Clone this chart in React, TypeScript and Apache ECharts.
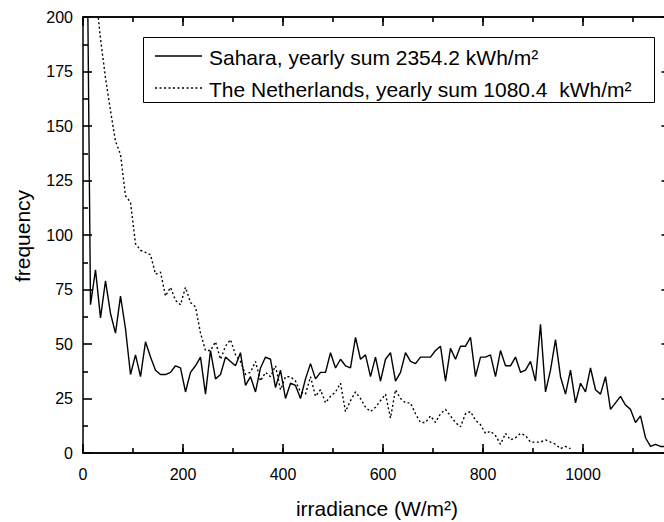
import React, { useEffect, useRef } from 'react';
import * as echarts from 'echarts';

const irradianceBins = [
  5, 15, 25, 35, 45, 55, 65, 75, 85, 95,
  105, 115, 125, 135, 145, 155, 165, 175, 185, 195,
  205, 215, 225, 235, 245, 255, 265, 275, 285, 295,
  305, 315, 325, 335, 345, 355, 365, 375, 385, 395,
  405, 415, 425, 435, 445, 455, 465, 475, 485, 495,
  505, 515, 525, 535, 545, 555, 565, 575, 585, 595,
  605, 615, 625, 635, 645, 655, 665, 675, 685, 695,
  705, 715, 725, 735, 745, 755, 765, 775, 785, 795,
  805, 815, 825, 835, 845, 855, 865, 875, 885, 895,
  905, 915, 925, 935, 945, 955, 965, 975, 985, 995,
  1005, 1015, 1025, 1035, 1045, 1055, 1065, 1075, 1085, 1095,
  1105, 1115, 1125, 1135, 1145, 1155, 1165,
];

const saharaFreq = [
  320, 68, 84, 62, 79, 64, 55, 72, 57, 36,
  45, 35, 51, 44, 38, 36, 36, 37, 40, 39,
  28, 37, 40, 44, 27, 47, 34, 36, 44, 42,
  40, 46, 31, 35, 28, 39, 44, 43, 30, 38,
  25, 32, 31, 25, 34, 41, 34, 37, 37, 46,
  39, 43, 40, 39, 53, 43, 45, 35, 44, 33,
  43, 46, 33, 37, 46, 42, 41, 44, 44, 44,
  47, 49, 33, 48, 43, 49, 49, 53, 35, 44,
  44, 45, 35, 47, 40, 40, 44, 37, 38, 42,
  33, 59, 28, 38, 52, 35, 27, 38, 23, 32,
  28, 39, 29, 27, 35, 20, 23, 26, 22, 20,
  14, 17, 7, 3, 4, 3, 3,
];

const netherlandsFreq = [
  600, 350, 212, 190, 172, 157, 143, 137, 118, 115,
  96, 93, 92, 91, 82, 83, 72, 76, 70, 68,
  76, 69, 67, 55, 47, 47, 51, 43, 49, 52,
  45, 42, 36, 37, 42, 33, 37, 35, 40, 29,
  35, 35, 33, 28, 27, 35, 26, 29, 23, 26,
  28, 32, 19, 24, 28, 25, 21, 19, 21, 24,
  27, 16, 29, 25, 23, 23, 18, 14, 14, 17,
  14, 18, 20, 17, 14, 12, 18, 19, 15, 13,
  9, 10, 8, 4, 9, 6, 7, 9, 8, 5,
  5, 5, 6, 5, 4, 2, 3, 2,
];

const seriesNames = ['Sahara', 'The Netherlands'];
const legendLabels = [
  'Sahara, yearly sum 2354.2 kWh/m²',
  'The Netherlands, yearly sum 1080.4  kWh/m²',
];
const xAxisTitle = 'irradiance (W/m²)';
const yAxisTitle = 'frequency';

const FONT = '"Liberation Sans", Arial, Helvetica, sans-serif';

export default function App() {
  const ref = useRef<HTMLDivElement>(null);

  useEffect(() => {
    const chart = echarts.init(ref.current!, null, { renderer: 'svg' });

    const sahara = saharaFreq.map((v, i) => [irradianceBins[i], v]);
    const neth = netherlandsFreq.map((v, i) => [irradianceBins[i], v]);

    const axisLineStyle = { color: '#000', width: 1.5 };
    const mkX = (pos: string, interval: number, len: number, label: any) => ({
      type: 'value',
      gridIndex: 0,
      min: 0,
      max: 1175,
      position: pos,
      interval,
      splitLine: { show: false },
      axisLine: { show: true, onZero: false, lineStyle: axisLineStyle },
      axisTick: { show: true, inside: true, length: len, lineStyle: { color: '#000', width: 1.6 } },
      axisLabel: label,
    });
    const mkY = (pos: string, label: any) => ({
      type: 'value',
      gridIndex: 0,
      position: pos,
      min: 0,
      max: 200,
      interval: 25,
      splitLine: { show: false },
      axisLine: { show: true, onZero: false, lineStyle: axisLineStyle },
      axisTick: { show: true, inside: true, length: 9, lineStyle: { color: '#000', width: 1.6 } },
      minorTick: { show: true, splitNumber: 2, length: 5, lineStyle: { color: '#000', width: 1.6 } },
      axisLabel: label,
    });

    const option: any = {
      animation: false,
      grid: {
        left: 83,
        top: 17,
        width: 587.5,
        height: 436,
        outerBoundsMode: 'none',
      },
      xAxis: [
        mkX('bottom', 200, 9, {
          show: true,
          color: '#000',
          fontSize: 16,
          fontFamily: FONT,
          margin: 13,
          showMaxLabel: false,
          formatter: (v: number) => String(v),
        }),
        mkX('bottom', 100, 5, { show: false }),
        mkX('top', 200, 9, { show: false }),
        mkX('top', 100, 5, { show: false }),
      ],
      yAxis: [
        mkY('left', {
          show: true,
          color: '#000',
          fontSize: 16,
          fontFamily: FONT,
          margin: 10,
        }),
        mkY('right', { show: false }),
      ],
      series: [
        {
          name: seriesNames[0],
          type: 'line',
          xAxisIndex: 0,
          yAxisIndex: 0,
          data: sahara,
          showSymbol: false,
          symbol: 'none',
          clip: true,
          lineStyle: { color: '#000', width: 1.4, type: 'solid' },
        },
        {
          name: seriesNames[1],
          type: 'line',
          xAxisIndex: 0,
          yAxisIndex: 0,
          data: neth,
          showSymbol: false,
          symbol: 'none',
          clip: true,
          lineStyle: { color: '#000', width: 1.4, type: [2, 2.5] },
        },
      ],
      graphic: [
        {
          type: 'rect',
          shape: { x: 143.5, y: 37.5, width: 511, height: 65 },
          style: { fill: '#fff', stroke: '#000', lineWidth: 1 },
          z: 10,
        },
        {
          type: 'line',
          shape: { x1: 155, y1: 56, x2: 202, y2: 56 },
          style: { stroke: '#000', lineWidth: 1.3 },
          z: 11,
        },
        {
          type: 'line',
          shape: { x1: 155, y1: 88, x2: 202, y2: 88 },
          style: { stroke: '#000', lineWidth: 1.3, lineDash: [2, 2.5] },
          z: 11,
        },
        {
          type: 'text',
          x: 209,
          y: 57.5,
          style: {
            text: legendLabels[0],
            fill: '#000',
            fontSize: 21,
            fontFamily: FONT,
            verticalAlign: 'middle',
            align: 'left',
          },
          z: 11,
        },
        {
          type: 'text',
          x: 209,
          y: 89,
          style: {
            text: legendLabels[1],
            fill: '#000',
            fontSize: 21,
            fontFamily: FONT,
            verticalAlign: 'middle',
            align: 'left',
          },
          z: 11,
        },
        {
          type: 'text',
          x: 377,
          y: 508,
          style: {
            text: xAxisTitle,
            fill: '#000',
            fontSize: 21,
            fontFamily: FONT,
            verticalAlign: 'middle',
            align: 'center',
          },
          z: 11,
        },
        {
          type: 'text',
          x: 22,
          y: 236,
          rotation: Math.PI / 2,
          style: {
            text: yAxisTitle,
            fill: '#000',
            fontSize: 21,
            fontFamily: FONT,
            verticalAlign: 'middle',
            align: 'center',
          },
          z: 11,
        },
      ],
    };

    chart.setOption(option);
    return () => chart.dispose();
  }, []);

  return (
    <div
      ref={ref}
      style={{ position: 'fixed', left: 0, top: 0, width: 664, height: 522, background: '#fff' }}
    />
  );
}
